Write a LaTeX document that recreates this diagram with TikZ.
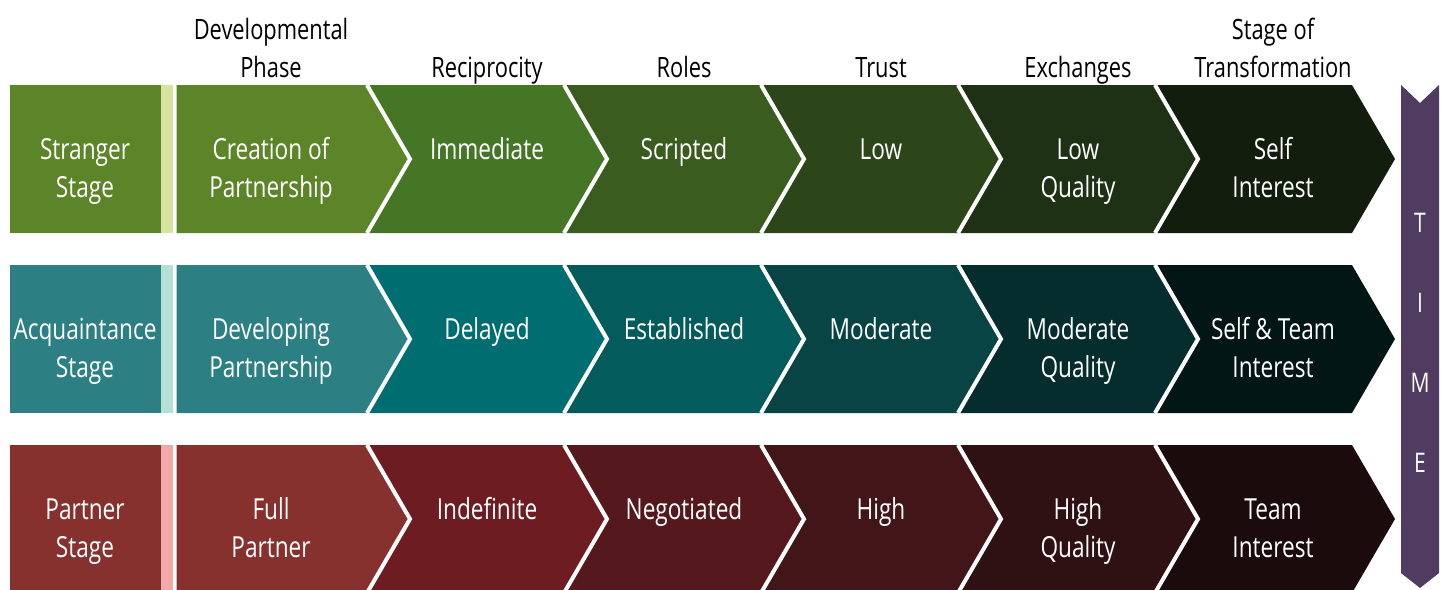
\documentclass[tikz,border=0pt]{standalone}
\usepackage{fontspec}
\setmainfont{Open Sans}[FakeStretch=0.78]
\usepackage{tikz}

\definecolor{timepurple}{HTML}{4F3C60}

\begin{document}
\begin{tikzpicture}[x=1pt,y=-1pt,
    cell/.style={text=white,align=center,anchor=base,inner sep=0pt,font=\fontsize{29}{38}\selectfont},
    head/.style={text=black,align=center,anchor=base,inner sep=0pt,font=\fontsize{28}{38}\selectfont},
    notch/.style={white,line width=4pt}]
        \useasboundingbox (0,0) rectangle (1443,589);
        \clip (0,0) rectangle (1443,589);
        % stranger row
        \fill[fill={rgb,255:red,92;green,132;blue,41}] (10,85) rectangle (161,233);
        \fill[fill={rgb,255:red,215;green,228;blue,160}] (161,85) rectangle (173,233);
        \fill[fill={rgb,255:red,92;green,132;blue,41}] (176.5,85) -- (367,85) -- (410,159) -- (367,233) -- (176.5,233) -- cycle;
        \foreach \col [count=\k] in {447626,3A5D1F,2C4519,1F3114,131D0D} {
            \pgfmathsetmacro{\xl}{367+197*(\k-1)}
            \definecolor{chev}{HTML}{\col}
            \fill[chev] (\xl,85) -- ({\xl+197},85) -- ({\xl+240},159) -- ({\xl+197},233) -- (\xl,233) -- ({\xl+43},159) -- cycle;
            \draw[notch] (\xl,85) -- ({\xl+43},159) -- (\xl,233);
        }
        % acquaintance row
        \fill[fill={rgb,255:red,44;green,127;blue,130}] (10,265) rectangle (161,413);
        \fill[fill={rgb,255:red,182;green,224;blue,214}] (161,265) rectangle (173,413);
        \fill[fill={rgb,255:red,44;green,127;blue,130}] (176.5,265) -- (367,265) -- (410,339) -- (367,413) -- (176.5,413) -- cycle;
        \foreach \col [count=\k] in {006E71,045B5B,084443,062D2D,031616} {
            \pgfmathsetmacro{\xl}{367+197*(\k-1)}
            \definecolor{chev}{HTML}{\col}
            \fill[chev] (\xl,265) -- ({\xl+197},265) -- ({\xl+240},339) -- ({\xl+197},413) -- (\xl,413) -- ({\xl+43},339) -- cycle;
            \draw[notch] (\xl,265) -- ({\xl+43},339) -- (\xl,413);
        }
        % partner row
        \fill[fill={rgb,255:red,135;green,49;blue,47}] (10,445) rectangle (161,593);
        \fill[fill={rgb,255:red,243;green,168;blue,171}] (161,445) rectangle (173,593);
        \fill[fill={rgb,255:red,135;green,49;blue,47}] (176.5,445) -- (367,445) -- (410,519) -- (367,593) -- (176.5,593) -- cycle;
        \foreach \col [count=\k] in {6D1D21,55191D,421519,2F1013,1C0B0D} {
            \pgfmathsetmacro{\xl}{367+197*(\k-1)}
            \definecolor{chev}{HTML}{\col}
            \fill[chev] (\xl,445) -- ({\xl+197},445) -- ({\xl+240},519) -- ({\xl+197},593) -- (\xl,593) -- ({\xl+43},519) -- cycle;
            \draw[notch] (\xl,445) -- ({\xl+43},519) -- (\xl,593);
        }
        % time arrow
        \fill[timepurple] (1401,85) -- (1420,103) -- (1439,85) -- (1439,573) -- (1420,588) -- (1401,573) -- cycle;
        \node[cell,font=\fontsize{27}{31}\selectfont] (tT) at (1420,232) {T};
        \node[cell,font=\fontsize{27}{31}\selectfont] (tI) at (1420,312) {I};
        \node[cell,font=\fontsize{27}{31}\selectfont] (tM) at (1420,392) {M};
        \node[cell,font=\fontsize{27}{31}\selectfont] (tE) at (1420,472) {E};
        % column heads (base is the last line)
        \node[head] (hphase) at (271,77) {Developmental\\Phase};
        \node[head] (hrecip) at (487,77) {Reciprocity};
        \node[head] (hroles) at (684,77) {Roles};
        \node[head] (htrust) at (881,77) {Trust};
        \node[head] (hexch) at (1078,77) {Exchanges};
        \node[head] (htrans) at (1273,77) {Stage of\\Transformation};
        % cells
        \node[cell] (stranger) at (85,197) {Stranger\\Stage};
        \node[cell] (sphase) at (271,197) {Creation of\\Partnership};
        \node[cell] (srecip) at (487,159) {Immediate};
        \node[cell] (sroles) at (684,159) {Scripted};
        \node[cell] (strust) at (881,159) {Low};
        \node[cell] (sexch) at (1078,197) {Low\\Quality};
        \node[cell] (strans) at (1273,197) {Self\\Interest};
        \node[cell] (acquaint) at (85,377) {Acquaintance\\Stage};
        \node[cell] (aphase) at (271,377) {Developing\\Partnership};
        \node[cell] (arecip) at (487,339) {Delayed};
        \node[cell] (aroles) at (684,339) {Established};
        \node[cell] (atrust) at (881,339) {Moderate};
        \node[cell] (aexch) at (1078,377) {Moderate\\Quality};
        \node[cell] (atrans) at (1273,377) {Self \& Team\\Interest};
        \node[cell] (partner) at (85,557) {Partner\\Stage};
        \node[cell] (pphase) at (271,557) {Full\\Partner};
        \node[cell] (precip) at (487,519) {Indefinite};
        \node[cell] (proles) at (684,519) {Negotiated};
        \node[cell] (ptrust) at (881,519) {High};
        \node[cell] (pexch) at (1078,557) {High\\Quality};
        \node[cell] (ptrans) at (1273,557) {Team\\Interest};
    \end{tikzpicture}
\end{document}
